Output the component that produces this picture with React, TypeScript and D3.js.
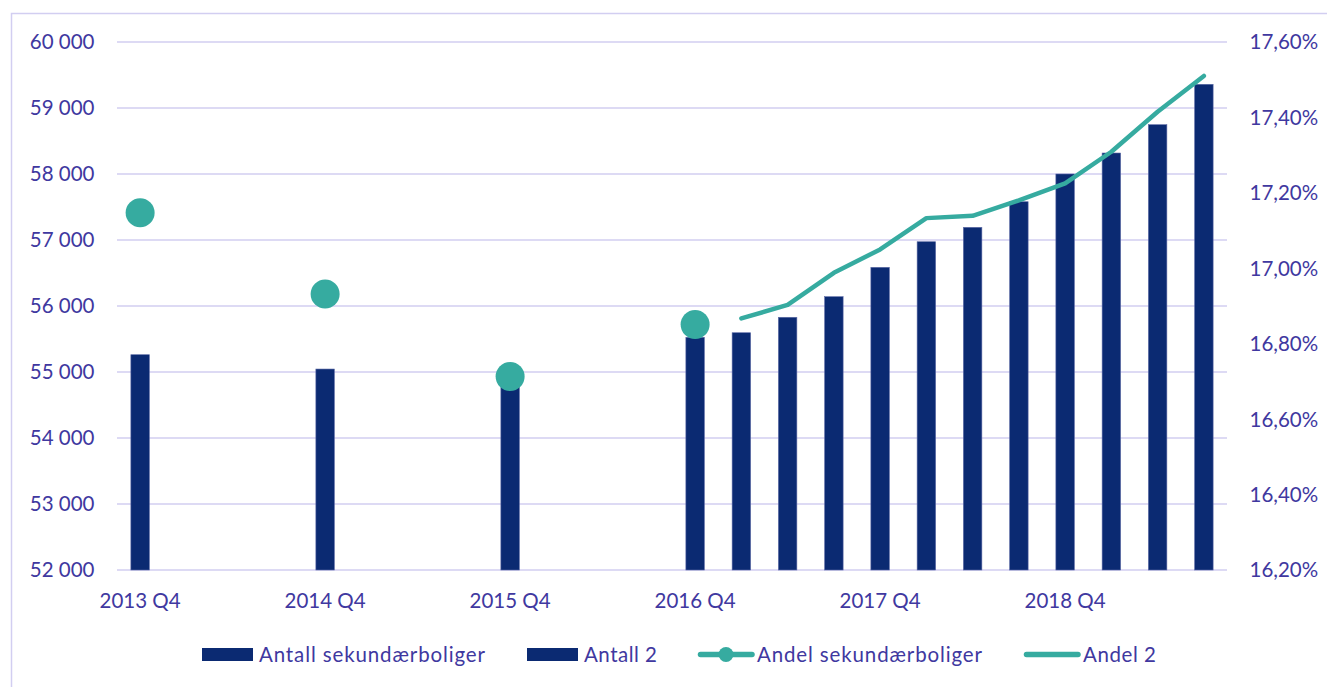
import React from "react";
import * as d3 from "d3";

const categories: string[] = [
  "2013 Q4", "2014 Q1", "2014 Q2", "2014 Q3", "2014 Q4", "2015 Q1", "2015 Q2", "2015 Q3",
  "2015 Q4", "2016 Q1", "2016 Q2", "2016 Q3", "2016 Q4", "2017 Q1", "2017 Q2", "2017 Q3",
  "2017 Q4", "2018 Q1", "2018 Q2", "2018 Q3", "2018 Q4", "2019 Q1", "2019 Q2", "2019 Q3",
];

const antallSekundaerboliger: (number | null)[] = [
  55262, null, null, null, 55045, null, null, null, 54880, null, null, null, 55526,
  null, null, null, null, null, null, null, null, null, null, null,
];

const antall2: (number | null)[] = [
  null, null, null, null, null, null, null, null, null, null, null, null, null,
  55595, 55829, 56141, 56586, 56974, 57192, 57580, 58000, 58318, 58747, 59359,
];

const andelSekundaerboliger: (number | null)[] = [
  17.147, null, null, null, 16.932, null, null, null, 16.713, null, null, null, 16.851,
  null, null, null, null, null, null, null, null, null, null, null,
];

const andel2: (number | null)[] = [
  null, null, null, null, null, null, null, null, null, null, null, null, null,
  16.867, 16.903, 16.988, 17.05, 17.133, 17.139, 17.18, 17.225, 17.309, 17.415, 17.51,
];

const leftTicks: number[] = [52000, 53000, 54000, 55000, 56000, 57000, 58000, 59000, 60000];
const rightTicks: number[] = [16.2, 16.4, 16.6, 16.8, 17.0, 17.2, 17.4, 17.6];
const xLabelEvery = 4;

const legendItems = [
  { label: "Antall sekundærboliger", kind: "bar", width: 226 },
  { label: "Antall 2", kind: "bar", width: 73 },
  { label: "Andel sekundærboliger", kind: "linedot", width: 225 },
  { label: "Andel 2", kind: "line", width: 73 },
];

const NAVY = "#0B2A72";
const TEAL = "#36ABA0";
const TEXT = "#4038A0";
const GRID = "#D2CEF1";
const FONT = "Lato, 'Open Sans', sans-serif";
const FS = 20.5;

export default function App() {
  const W = 1327;
  const H = 687;
  const left = 117;
  const right = 1227;
  const top = 42;
  const bottom = 570;

  const x = d3.scaleBand<string>().domain(categories).range([left, right]).paddingInner(0.6).paddingOuter(0.3);
  const yL = d3.scaleLinear().domain([52000, 60000]).range([bottom, top]);
  const yR = d3.scaleLinear().domain([16.2, 17.6]).range([bottom, top]);
  const cx = (c: string) => (x(c) as number) + x.bandwidth() / 2;

  const fmtL = (v: number) => d3.format(",")(v).replace(/,/g, " ");
  const fmtR = (v: number) => d3.format(".2f")(v).replace(".", ",") + "%";

  const lineGen = d3
    .line<number | null>()
    .defined((d) => d !== null)
    .x((_, i) => cx(categories[i]))
    .y((d) => yR(d as number));

  const bars = [antallSekundaerboliger, antall2];

  const legendY = 654.5;
  const legendX = [202, 527, 698, 1024];

  return (
    <div style={{ position: "absolute", left: 0, top: 0 }}>
      <svg width={W} height={H} style={{ display: "block", background: "#fff" }} fontFamily={FONT}>
        <path d={`M11.5,${H} V13.5 H${W}`} fill="none" stroke={GRID} strokeWidth={1.5} />
        {leftTicks.map((t) => (
          <line key={"g" + t} x1={left} x2={right} y1={yL(t)} y2={yL(t)} stroke={GRID} strokeWidth={1.5} />
        ))}
        {leftTicks.map((t) => (
          <text key={"l" + t} x={94.5} y={yL(t) + 7.4} textAnchor="end" fontSize={FS} fill={TEXT}>
            {fmtL(t)}
          </text>
        ))}
        {rightTicks.map((t) => (
          <text key={"r" + t} x={1249.5} y={yR(t) + 7.4} textAnchor="start" fontSize={FS} fill={TEXT}>
            {fmtR(t)}
          </text>
        ))}
        {categories.map((c, i) =>
          i % xLabelEvery === 0 ? (
            <text key={"x" + c} x={cx(c)} y={608.3} textAnchor="middle" fontSize={FS} fill={TEXT}>
              {c}
            </text>
          ) : null
        )}
        {bars.map((series, si) =>
          series.map((v, i) =>
            v === null ? null : (
              <rect
                key={`b${si}-${i}`}
                x={x(categories[i])}
                y={yL(v)}
                width={x.bandwidth()}
                height={yL(52000) - yL(v)}
                fill={NAVY}
                stroke="#5C6AA6"
                strokeWidth={0.6}
              />
            )
          )
        )}
        <path
          d={lineGen(andel2) || ""}
          fill="none"
          stroke={TEAL}
          strokeWidth={4.5}
          strokeLinejoin="round"
          strokeLinecap="round"
        />
        {andelSekundaerboliger.map((v, i) =>
          v === null ? null : <circle key={"d" + i} cx={cx(categories[i])} cy={yR(v)} r={14.5} fill={TEAL} />
        )}
        {legendItems.map((it, i) => {
          const lx = legendX[i];
          if (it.kind === "bar") {
            return (
              <g key={"lg" + i}>
                <rect x={lx} y={legendY - 6.5} width={51} height={13} fill={NAVY} />
                <text
                  x={lx + 57}
                  y={legendY + 7.2}
                  fontSize={FS}
                  fill={TEXT}
                  textLength={it.width}
                  lengthAdjust="spacing"
                >
                  {it.label}
                </text>
              </g>
            );
          }
          return (
            <g key={"lg" + i}>
              <line
                x1={lx + 2.5}
                x2={lx + 54}
                y1={legendY}
                y2={legendY}
                stroke={TEAL}
                strokeWidth={5.5}
                strokeLinecap="round"
              />
              {it.kind === "linedot" ? <circle cx={lx + 28} cy={legendY} r={7.5} fill={TEAL} /> : null}
              <text
                x={lx + 59}
                y={legendY + 7.2}
                fontSize={FS}
                fill={TEXT}
                textLength={it.width}
                lengthAdjust="spacing"
              >
                {it.label}
              </text>
            </g>
          );
        })}
      </svg>
    </div>
  );
}
